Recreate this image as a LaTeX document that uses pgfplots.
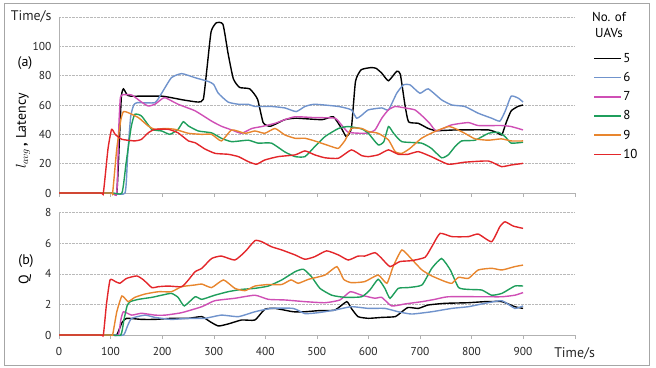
\documentclass[border=0pt]{standalone}
\usepackage{pgfplots}
\pgfplotsset{compat=1.18}
\usepackage{fontspec}
\setmainfont{PT Sans}
\definecolor{cfive}{HTML}{000000}
\definecolor{csix}{HTML}{7093CC}
\definecolor{cseven}{HTML}{CF4FB5}
\definecolor{ceight}{HTML}{1F9E5C}
\definecolor{cnine}{HTML}{E8862E}
\definecolor{cten}{HTML}{E3262A}
\pgfplotsset{
  common/.style={
    scale only axis,
    width=515.6bp,
    xmin=0, xmax=1000,
    xtick={0,100,...,1000},
    axis x line=bottom, axis y line=left,
    axis line style={-, draw=gray!60},
    tick align=outside,
    major tick length=4bp,
    xtick style={gray!60},
    ytick style={draw=none},
    ymajorgrids,
    major grid style={densely dotted, gray!55, line width=0.6bp},
    ticklabel style={font=\fontsize{11.5}{12}\selectfont, text=black!85},
    every axis plot/.append style={smooth, tension=0.3, line width=1.4bp, no markers},
    clip=false,
  }
}
\begin{document}
\begin{tikzpicture}
\useasboundingbox (0,0) rectangle (656bp,368bp);
\draw[gray!70, line width=0.8bp] (4bp,3bp) rectangle (649bp,365bp);
% ---------- top axis ----------
\begin{axis}[common,
  at={(59bp,175bp)}, anchor=south west,
  height=176bp,
  ymin=0, ymax=120,
  ytick={0,20,...,120},
  yticklabels={0,20,40,60,80,100,{\fontsize{14}{14}\selectfont Time/s}},
  xticklabel=\empty,
  legend style={at={(axis description cs:1.03,0.815)}, anchor=north west, draw=none, fill=none,
    font=\fontsize{13}{13}\selectfont, row sep=5.5bp, nodes={inner sep=1.5bp}},
  legend cell align=left,
  legend image code/.code={\draw[#1, line width=1.5bp] (0bp,0bp) -- (27bp,0bp);},
]
\addplot[cfive] coordinates {(0,0) (100,0) (112,0) (117,35) (121,66) (125,71) (132,67) (140,66) (200,66) (240,63.5) (270,62) (280,64) (287,85) (295,110) (305,116) (318,115) (328,95) (338,78) (350,72) (370,71) (385,64) (396,48) (410,45.5) (438,50) (460,51) (510,50) (532,52) (548,44) (557,38.5) (567,44) (575,76) (586,84) (605,85.5) (615,85) (626,81.7) (639,76.5) (655,83) (662,81) (671,60) (678,48.5) (697,47.5) (716,44) (732,42.5) (770,43) (833,43) (852,40.7) (859,39.6) (868,48.7) (877,56) (890,59) (900,60)};
\addlegendentry{5}
\addplot[csix] coordinates {(0,0) (100,0) (128,0) (133,25) (139,52) (145,60) (152,61.6) (186,61.6) (199,68) (218,78.6) (238,81.4) (264,78.6) (290,76) (300,74) (309,68) (328,62) (348,60.5) (367,60.5) (380,59) (412,59) (438,58) (460,55.5) (477,59) (496,60.5) (542,59) (567,56.7) (577,51) (587,53) (600,56.7) (626,58) (639,56.7) (655,68) (668,73.7) (681,73.7) (700,68) (716,71) (742,63.5) (762,60) (787,59) (813,54.4) (839,51) (855,49) (865,55.5) (877,66) (891,64.6) (900,62)};
\addlegendentry{6}
\addplot[cseven] coordinates {(0,0) (100,0) (112,0) (116,45) (119,65) (124,67) (141,66.8) (160,62) (173,59.3) (186,60.5) (199,64) (206,65) (231,60.5) (264,56) (296,49) (315,45.5) (335,43) (354,40.7) (374,44) (393,45.3) (419,47.5) (438,50) (458,52) (496,51.4) (535,51) (548,46.4) (561,41.4) (587,40.7) (600,41) (613,43) (626,51) (639,56.7) (652,59) (671,58) (690,56.7) (703,53) (719,47.5) (732,42.3) (761,46.4) (794,48) (813,46) (858,46) (877,45.3) (900,43)};
\addlegendentry{7}
\addplot[ceight] coordinates {(0,0) (100,0) (122,0) (130,20) (140,45) (147,53.6) (160,52.5) (180,43.4) (199,42.3) (215,40) (231,43.4) (241,48.6) (251,45.7) (270,42.3) (296,41) (315,37.3) (335,35) (367,36) (386,34) (412,34) (438,28) (458,24.8) (477,24.8) (496,31.6) (516,38.5) (542,44) (561,45.3) (587,43.7) (600,40.7) (619,32.8) (630,35) (639,45.3) (649,40.7) (665,35) (703,34) (722,30.5) (742,24) (755,26) (768,31.6) (781,35.5) (807,36) (833,40.7) (852,41.4) (865,38.5) (877,34) (900,34.6)};
\addlegendentry{8}
\addplot[cnine] coordinates {(0,0) (100,0) (104,0) (112,30) (120,50) (125,55.5) (134,54.8) (154,51.4) (173,45.7) (186,43.4) (206,44) (225,43.4) (251,40.7) (277,40) (296,40) (315,35.5) (335,43) (361,40.7) (380,42.3) (399,40.7) (419,44) (438,39.6) (458,37.3) (477,37.3) (496,35.5) (529,31.6) (542,30.5) (555,36) (567,44) (587,44) (600,41.9) (619,40.7) (639,36.2) (652,28.2) (665,27) (681,30.5) (703,37.3) (729,41.9) (755,45.3) (768,44) (787,40.7) (807,36.9) (833,36) (858,36.9) (877,35.5) (900,35.5)};
\addlegendentry{9}
\addplot[cten] coordinates {(0,0) (80,0) (86,0) (95,30) (102,43.4) (109,40) (122,36.6) (147,35.5) (160,36.6) (173,41) (186,43.4) (212,43.4) (231,41) (251,35.5) (264,34.3) (283,30) (303,27) (328,26.4) (348,24.8) (367,21.4) (383,19.6) (399,22.5) (425,24.8) (458,26) (477,28.7) (496,26) (516,24) (542,23.7) (567,29.4) (587,25.5) (600,24.8) (619,26) (639,29.4) (658,26.4) (677,26.4) (697,28.2) (722,24.8) (755,19.6) (787,21) (833,21.8) (858,18) (877,19.1) (900,20.2)};
\addlegendentry{10}
\end{axis}
% ---------- bottom axis ----------
\begin{axis}[common,
  at={(59bp,33bp)}, anchor=south west,
  height=122.4bp,
  ymin=0, ymax=8,
  ytick={0,2,...,8},
  yticklabels={0,2,4,6,8},
  xticklabels={0,100,200,300,400,500,600,700,800,900,{\fontsize{14}{14}\selectfont Time/s}},
  xticklabel style={yshift=-5bp},
]
\addplot[cfive] coordinates {(0,0) (100,0) (112,0) (122,0.8) (131,1.09) (160,1.02) (186,1.02) (218,1.09) (251,1.09) (277,1.2) (293,0.87) (309,0.59) (328,0.72) (354,0.98) (380,0.98) (399,1.68) (419,1.74) (454,1.52) (477,1.52) (503,1.59) (535,1.63) (558,2.18) (567,1.74) (580,1.2) (600,1.09) (626,1.15) (652,1.2) (665,1.52) (677,1.8) (697,1.74) (716,1.96) (749,2.07) (794,2.11) (826,2.18) (859,2.18) (884,1.85) (900,1.74)};
\addplot[csix] coordinates {(0,0) (100,0) (125,0) (133,0.6) (141,1.09) (167,1.3) (186,1.15) (218,1.02) (251,1.09) (283,1.09) (315,1.3) (348,1.2) (380,1.52) (412,1.74) (454,1.74) (477,1.4) (503,1.46) (535,1.63) (567,1.85) (600,1.74) (632,1.74) (658,1.52) (684,1.37) (723,1.52) (762,1.74) (794,1.85) (826,2.07) (859,2.24) (884,1.74) (900,1.9)};
\addplot[cseven] coordinates {(0,0) (100,0) (115,0) (120,1) (125,1.52) (141,1.3) (160,1.42) (186,1.3) (206,1.3) (238,1.46) (277,1.85) (302,2.24) (341,2.4) (380,2.6) (406,2.33) (438,2.29) (477,2.18) (516,2.11) (545,2.29) (565,2.83) (587,2.6) (613,2.4) (626,2.46) (645,1.9) (671,2.03) (704,2.18) (729,2.33) (755,2.5) (826,2.5) (859,2.5) (884,2.6) (900,2.77)};
\addplot[ceight] coordinates {(0,0) (100,0) (120,0) (126,1) (132,1.9) (138,2.18) (154,2.33) (180,2.46) (199,2.6) (218,2.72) (231,2.46) (243,1.9) (264,2.5) (277,2.33) (302,2.6) (328,2.83) (354,2.98) (380,3.05) (406,3.2) (432,3.6) (458,4.14) (474,4.3) (490,3.8) (506,3.05) (529,2.6) (555,2.46) (587,2.5) (603,2.94) (619,3.64) (632,3.05) (642,2.4) (658,3.05) (677,3.1) (704,3.27) (723,4.36) (742,5.0) (759,4.25) (775,3.1) (794,2.98) (820,2.94) (839,2.6) (859,2.72) (884,3.2) (900,3.2)};
\addplot[cnine] coordinates {(0,0) (100,0) (104,0) (112,1.5) (122,2.55) (134,2.18) (147,2.46) (167,2.68) (193,2.83) (218,2.83) (238,3.16) (264,3.27) (277,3.33) (296,3.1) (319,3.6) (341,3.05) (361,2.9) (380,3.2) (406,3.3) (432,3.3) (450,3.6) (464,3.38) (484,3.64) (516,3.92) (539,4.47) (552,3.64) (567,3.42) (593,3.49) (619,3.92) (636,3.38) (648,4.47) (665,5.56) (684,4.95) (704,4.25) (723,3.86) (749,3.49) (762,3.38) (775,3.77) (794,3.7) (813,4.25) (839,4.36) (859,4.25) (884,4.47) (900,4.57)};
\addplot[cten] coordinates {(0,0) (80,0) (86,0) (92,2) (99,3.6) (109,3.5) (118,3.38) (131,3.7) (151,3.86) (164,3.6) (180,3.1) (193,3.16) (212,3.2) (238,3.16) (251,3.6) (264,4.14) (277,4.36) (296,5.0) (315,5.16) (341,4.9) (361,5.45) (380,6.17) (393,6.1) (412,5.77) (432,5.56) (458,5.23) (477,4.95) (496,5.12) (519,5.5) (542,5.23) (561,4.9) (580,5.16) (593,5.16) (613,5.38) (626,5.0) (642,4.47) (661,4.8) (684,4.86) (710,5.08) (723,5.77) (739,6.64) (762,6.43) (794,6.43) (813,6.6) (839,6.1) (855,7.08) (865,7.4) (881,7.12) (900,6.97)};
\end{axis}
% ---------- labels ----------
\node[font=\fontsize{14}{14}\selectfont] at (25bp,305bp) {(a)};
\node[font=\fontsize{14}{14}\selectfont] at (26bp,107bp) {(b)};
\node[rotate=90, font=\fontsize{14}{14}\selectfont] at (23bp,237bp) {$l_{avg}$\,\textbf{,} Latency};
\node[rotate=90, font=\fontsize{14}{14}\selectfont] at (25bp,88bp) {Q};
\node[align=center, font=\fontsize{13}{16}\selectfont] at (609bp,343bp) {No. of\\UAVs};
\end{tikzpicture}
\end{document}
